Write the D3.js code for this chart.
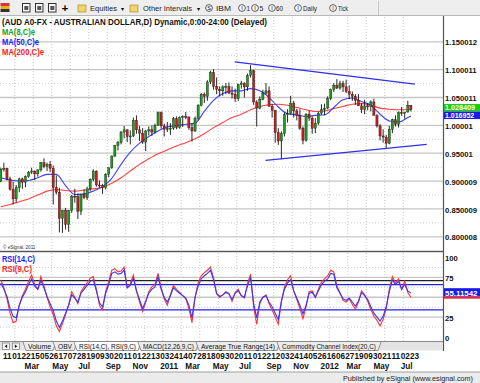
<!DOCTYPE html>
<html><head><meta charset="utf-8">
<script src="https://cdn.jsdelivr.net/npm/d3@7"></script>
<style>body{margin:0;background:#fff;overflow:hidden}svg{display:block;font-family:"Liberation Sans",Arial,sans-serif}</style>
</head><body><svg id="c" width="480" height="383"></svg>
<script>
// ---------- DATA (weekly bars, first bar = week of 2010-01-04) ----------
const firstWeek = "2010-01-04";
const opens = [0.9000,0.9210,0.9230,0.9040,0.8850,0.8680,0.8880,0.9040,0.8980,0.9080,0.9160,0.9180,0.9130,0.9200,0.9330,0.9260,0.9300,0.9230,0.8880,0.8800,0.8330,0.8480,0.8220,0.8470,0.8730,0.8720,0.8460,0.8760,0.8700,0.8860,0.9030,0.9180,0.8930,0.8920,0.8880,0.9120,0.9240,0.9450,0.9640,0.9690,0.9880,0.9920,0.9800,0.9810,1.0090,0.9920,0.9860,0.9700,0.9900,0.9920,0.9880,1.0000,1.0230,0.9990,0.9930,0.9940,0.9950,1.0120,0.9960,1.0140,1.0160,1.0150,0.9960,0.9900,1.0130,1.0360,1.0560,1.0520,1.0780,1.0950,1.0700,1.0650,1.0620,1.0690,1.0700,1.0580,1.0560,1.0480,1.0730,1.0760,1.0690,1.0900,1.0980,1.0420,1.0310,1.0470,1.0580,1.0620,1.0340,1.0270,0.9870,0.9720,0.9850,1.0190,1.0210,1.0400,1.0260,1.0180,0.9950,0.9730,1.0200,1.0130,0.9950,1.0040,1.0220,1.0280,1.0310,1.0480,1.0640,1.0720,1.0670,1.0750,1.0690,1.0610,1.0560,1.0520,1.0450,1.0350,1.0280,1.0350,1.0340,1.0420,1.0180,0.9990,0.9810,0.9790,0.9680,0.9930,1.0100,1.0020,1.0230,1.0220,1.0240,1.0360];
const highs = [0.9240,0.9330,0.9240,0.9080,0.8990,0.8930,0.9060,0.9060,0.9100,0.9180,0.9240,0.9190,0.9210,0.9340,0.9410,0.9330,0.9360,0.9280,0.9100,0.8880,0.8480,0.8520,0.8480,0.8750,0.8860,0.8780,0.8770,0.8850,0.8900,0.9050,0.9210,0.9190,0.9010,0.8950,0.9140,0.9240,0.9460,0.9650,0.9720,0.9900,0.9990,0.9930,0.9910,1.0140,1.0180,0.9990,0.9950,0.9920,0.9980,1.0000,1.0030,1.0250,1.0250,1.0030,1.0060,1.0040,1.0150,1.0160,1.0160,1.0180,1.0240,1.0160,1.0040,1.0160,1.0380,1.0580,1.0590,1.0810,1.0980,1.1010,1.0860,1.0700,1.0720,1.0760,1.0770,1.0700,1.0660,1.0750,1.0800,1.0770,1.0930,1.1080,1.1000,1.0450,1.0520,1.0640,1.0760,1.0700,1.0390,1.0280,0.9950,0.9890,1.0230,1.0290,1.0530,1.0440,1.0300,1.0290,0.9980,1.0220,1.0260,1.0160,1.0130,1.0240,1.0380,1.0390,1.0520,1.0660,1.0760,1.0830,1.0800,1.0800,1.0820,1.0720,1.0610,1.0560,1.0560,1.0400,1.0460,1.0400,1.0450,1.0480,1.0200,1.0020,0.9930,0.9830,0.9990,1.0120,1.0180,1.0250,1.0330,1.0240,1.0440,1.0360];
const lows = [0.8980,0.9170,0.9010,0.8830,0.8580,0.8620,0.8800,0.8860,0.8890,0.9060,0.9130,0.9020,0.9080,0.9170,0.9230,0.9180,0.9160,0.8580,0.8760,0.8080,0.8070,0.8130,0.8090,0.8430,0.8610,0.8320,0.8390,0.8680,0.8660,0.8820,0.9000,0.8900,0.8880,0.8770,0.8850,0.9070,0.9220,0.9430,0.9550,0.9660,0.9770,0.9700,0.9660,0.9790,0.9850,0.9720,0.9670,0.9540,0.9820,0.9810,0.9850,0.9990,0.9940,0.9800,0.9880,0.9830,0.9920,0.9930,0.9940,0.9970,1.0110,0.9920,0.9710,0.9880,1.0090,1.0340,1.0400,1.0440,1.0740,1.0640,1.0560,1.0520,1.0530,1.0560,1.0560,1.0480,1.0420,1.0440,1.0660,1.0500,1.0620,1.0860,1.0370,0.9980,1.0290,1.0450,1.0550,1.0340,1.0140,0.9690,0.9650,0.9390,0.9800,1.0050,1.0190,1.0140,1.0090,0.9920,0.9660,0.9710,1.0080,0.9850,0.9860,1.0010,1.0190,1.0180,1.0290,1.0450,1.0600,1.0650,1.0640,1.0600,1.0580,1.0470,1.0440,1.0370,1.0350,1.0220,1.0200,1.0270,1.0250,1.0180,0.9960,0.9730,0.9690,0.9580,0.9660,0.9860,0.9980,0.9960,1.0170,1.0120,1.0230,1.0250];
const closes = [0.9210,0.9230,0.9040,0.8850,0.8680,0.8880,0.9040,0.8980,0.9080,0.9160,0.9180,0.9130,0.9200,0.9330,0.9260,0.9300,0.9230,0.8880,0.8800,0.8330,0.8480,0.8220,0.8470,0.8730,0.8720,0.8460,0.8760,0.8700,0.8860,0.9030,0.9180,0.8930,0.8920,0.8880,0.9120,0.9240,0.9450,0.9640,0.9690,0.9880,0.9920,0.9800,0.9810,1.0090,0.9920,0.9860,0.9700,0.9900,0.9920,0.9880,1.0000,1.0230,0.9990,0.9930,0.9940,0.9950,1.0120,0.9960,1.0140,1.0160,1.0150,0.9960,0.9900,1.0130,1.0360,1.0560,1.0520,1.0780,1.0950,1.0700,1.0650,1.0620,1.0690,1.0700,1.0580,1.0560,1.0480,1.0730,1.0760,1.0690,1.0900,1.0980,1.0420,1.0310,1.0470,1.0580,1.0620,1.0340,1.0270,0.9870,0.9720,0.9850,1.0190,1.0210,1.0400,1.0260,1.0180,0.9950,0.9730,1.0200,1.0130,0.9950,1.0040,1.0220,1.0280,1.0310,1.0480,1.0640,1.0720,1.0670,1.0750,1.0690,1.0610,1.0560,1.0520,1.0450,1.0350,1.0280,1.0350,1.0340,1.0420,1.0180,0.9990,0.9810,0.9790,0.9680,0.9930,1.0100,1.0020,1.0230,1.0220,1.0240,1.0360,1.0284];

const maWeeks = [0,3,6,9,12,15,18,21,24,27,30,33,36,39,42,45,48,51,54,57,60,63,66,69,72,75,78,81,84,87,90,93,96,99,102,105,108,111,114,117,120,123,126,129,132,133];
const ma50  = [0.906,0.902,0.900,0.901,0.906,0.912,0.912,0.892,0.876,0.877,0.882,0.890,0.905,0.930,0.952,0.968,0.980,0.990,0.997,1.000,1.002,1.004,1.025,1.045,1.057,1.062,1.062,1.066,1.062,1.050,1.033,1.021,1.019,1.016,1.018,1.019,1.032,1.046,1.049,1.043,1.036,1.020,1.008,1.006,1.014,1.017];
const ma200 = [0.854,0.858,0.863,0.868,0.875,0.882,0.885,0.883,0.882,0.884,0.886,0.889,0.896,0.906,0.918,0.930,0.940,0.949,0.956,0.963,0.969,0.976,0.985,0.996,1.005,1.014,1.020,1.028,1.034,1.037,1.038,1.036,1.032,1.028,1.025,1.026,1.030,1.034,1.038,1.039,1.036,1.031,1.029,1.028,1.028,1.028];

const rsi14 = [68,60,51,36,26,24,40,50,57,66,73,64,60,71,62,51,42,33,20,12,20,30,40,53,49,44,55,60,65,70,72,58,43,38,55,66,80,82,79,80,84,62,65,74,58,47,36,45,55,60,63,76,60,50,44,52,62,58,55,52,49,40,24,50,64,73,77,80,84,72,55,51,53,56,54,47,55,58,52,50,64,75,42,24,44,50,52,44,38,30,22,45,60,68,72,58,49,40,29,40,55,56,50,58,66,70,73,80,79,62,55,48,46,49,44,39,45,56,52,47,38,30,25,20,26,38,57,72,66,70,60,66,58,55.11542];
const rsi9  = [72,62,48,30,18,20,40,52,60,70,78,66,60,76,64,50,38,28,14,7,17,28,40,57,50,42,57,63,68,74,76,60,40,34,57,70,84,86,82,83,88,62,67,78,58,44,32,44,57,63,66,80,62,48,40,53,65,60,56,52,48,36,18,50,68,77,81,84,88,74,54,50,53,57,55,45,56,60,52,49,67,79,38,16,42,50,53,42,34,25,16,44,63,72,77,58,47,36,23,38,57,58,50,60,69,73,77,84,82,64,56,46,44,48,41,35,44,58,53,45,35,26,21,14,22,36,60,76,68,73,60,70,56,50];

const priceTicks = [0.800008,0.850009,0.900009,0.95001,1.00001,1.050011,1.100011,1.150012];
const priceTickLabels = ["0.800008","0.850009","0.900009","0.95001","1.00001","1.050011","1.100011","1.150012"];
const rsiTicks = [0,25,75,100];
const rsiTickLabels = ["0","25","75","100"];
const dayTickDates = ["2010-01-11","2010-02-01","2010-02-22","2010-03-15","2010-04-05","2010-04-26","2010-05-17","2010-06-07","2010-06-28","2010-07-19","2010-08-09","2010-08-30","2010-09-20","2010-10-11","2010-11-01","2010-11-22","2010-12-13","2011-01-03","2011-01-24","2011-02-14","2011-03-07","2011-03-28","2011-04-18","2011-05-09","2011-05-30","2011-06-20","2011-07-11","2011-08-01","2011-08-22","2011-09-12","2011-10-03","2011-10-24","2011-11-14","2011-12-05","2011-12-26","2012-01-16","2012-02-06","2012-02-27","2012-03-19","2012-04-09","2012-04-30","2012-05-21","2012-06-11","2012-07-02","2012-07-23"];
const dayTickLabels = ["11","01","22","15","05","26","17","07","28","19","09","30","20","11","01","22","13","03","24","14","07","28","18","09","30","20","11","01","22","12","03","24","14","05","26","16","06","27","19","09","30","21","11","02","23"];
const monthTickDates = ["2010-03-01","2010-05-03","2010-07-01","2010-09-01","2010-11-01","2011-01-03","2011-03-01","2011-05-02","2011-07-01","2011-09-01","2011-11-01","2012-01-02","2012-03-01","2012-05-01","2012-07-02"];
const monthTickLabels = ["Mar","May","Jul","Sep","Nov","2011","Mar","May","Jul","Sep","Nov","2012","Mar","May","Jul"];
const trendUpper = [["2011-06-21",1.114],["2012-08-03",1.074]];
const trendLower = [["2011-08-30",0.937],["2012-08-30",0.966]];
const rsiLevels = [{v:71,c:"#222"},{v:66,c:"#2222ee"},{v:34,c:"#2222ee"}];
const lastClose = "1.028409", lastMA50 = "1.016952", lastRSI = "55.11542";
const tabs = ["Volume","OBV","RSI(14,C), RSI(9,C)","MACD(12,26,9,C)","Average True Range(14)","Commodity Channel Index(20,C)"];

// ---------- SCALES ----------
const parse = d3.timeParse("%Y-%m-%d");
const x = d3.scaleTime().domain([parse("2010-01-11"), parse("2012-07-23")]).range([3, 410]);
const y = d3.scaleLinear().domain([0.8, 1.15]).range([236.8, 41.8]);
const yr = d3.scaleLinear().domain([0, 100]).range([337, 257.5]);
const wk = i => d3.timeDay.offset(parse(firstWeek), 7 * i + 2);

const svg = d3.select("#c");
const PR = 443;
const defs = svg.append("defs");
defs.append("clipPath").attr("id","cm").append("rect").attr("x",0).attr("y",17).attr("width",PR).attr("height",233);
defs.append("clipPath").attr("id","cr").append("rect").attr("x",0).attr("y",253).attr("width",PR).attr("height",88);

svg.append("rect").attr("width",480).attr("height",383).attr("fill","#fff");

// ---------- TOOLBAR ----------
const tb = svg.append("g");
tb.append("rect").attr("x",0).attr("y",0).attr("width",480).attr("height",16).attr("fill","#eeeeee");
tb.append("line").attr("x1",0).attr("x2",480).attr("y1",15.5).attr("y2",15.5).attr("stroke","#b8b8b8");
tb.append("line").attr("x1",378.5).attr("x2",378.5).attr("y1",1).attr("y2",15).attr("stroke","#c8c8c8");
tb.append("rect").attr("x",0.5).attr("y",3).attr("width",9).attr("height",3).attr("fill","#d33");
tb.append("rect").attr("x",0.5).attr("y",6).attr("width",9).attr("height",3).attr("fill","#e8b020");
tb.append("rect").attr("x",0.5).attr("y",9).attr("width",9).attr("height",3).attr("fill","#333");
[22,35,48].forEach(ix=>{
  tb.append("rect").attr("x",ix+0.5).attr("y",3.5).attr("width",7.5).attr("height",8.5).attr("fill","#fafafa").attr("stroke","#333");
  tb.append("rect").attr("x",ix+2.3).attr("y",6).attr("width",4).attr("height",4).attr("fill","#555");
});
tb.append("text").attr("x",65).attr("y",12).attr("font-size",11).attr("font-weight","bold").attr("text-anchor","middle").text("+");
function folder(fx){
  tb.append("rect").attr("x",fx).attr("y",5).attr("width",8).attr("height",7).attr("fill","#f3d36b").attr("stroke","#a08020").attr("stroke-width",0.6);
}
folder(78); folder(130);
tb.append("text").attr("x",90).attr("y",11).attr("font-size",7.6).attr("fill","#222").attr("textLength",27).attr("lengthAdjust","spacingAndGlyphs").text("Equities");
tb.append("text").attr("x",121).attr("y",10.5).attr("font-size",6).text("▾");
tb.append("text").attr("x",143).attr("y",11).attr("font-size",7.6).attr("fill","#222").attr("textLength",49).attr("lengthAdjust","spacingAndGlyphs").text("Other Intervals");
tb.append("text").attr("x",197).attr("y",10.5).attr("font-size",6).text("▾");
function circ(cx,label,tx,tl){
  tb.append("circle").attr("cx",cx).attr("cy",8).attr("r",3.4).attr("fill","#fff").attr("stroke","#333").attr("stroke-width",0.8);
  tb.append("text").attr("x",cx).attr("y",10.2).attr("font-size",5.5).attr("text-anchor","middle").text(label==="IBM"?"S":"I");
  tb.append("text").attr("x",tx).attr("y",11).attr("font-size",7.2).attr("fill","#222").attr("textLength",tl).attr("lengthAdjust","spacingAndGlyphs").text(label);
}
circ(209,"IBM",216,15); circ(242,"1",246.5,3.5); circ(255,"5",259.5,3.8); circ(272,"60",276,7); circ(298,"Daily",303,14); circ(333,"Tick",338,10);

// ---------- MAIN PANEL GRID ----------
const gm = svg.append("g");
const gridDates = dayTickDates.filter((d,i)=>i%2===1);
gm.selectAll(".vg").data(gridDates).join("line")
  .attr("x1",d=>x(parse(d))+2.5).attr("x2",d=>x(parse(d))+2.5).attr("y1",17).attr("y2",250)
  .attr("stroke","#c8c8c8").attr("stroke-dasharray","1,2");
gm.selectAll(".hd").data(d3.range(0.825,1.15,0.05)).join("line")
  .attr("x1",0).attr("x2",PR).attr("y1",d=>y(d)).attr("y2",d=>y(d))
  .attr("stroke","#cccccc").attr("stroke-dasharray","1,2");
gm.selectAll(".hs").data(priceTicks).join("line")
  .attr("x1",0).attr("x2",PR).attr("y1",d=>y(d)).attr("y2",d=>y(d))
  .attr("stroke","#c6c6c6").attr("stroke-width",1.3);

// ---------- MAs ----------
const gmc = svg.append("g").attr("clip-path","url(#cm)");
const lineMA = arr => d3.line().x((d,i)=>x(wk(maWeeks[i]))).y(d=>y(d)).curve(d3.curveMonotoneX)(arr);
gmc.append("path").attr("d",lineMA(ma200)).attr("fill","none").attr("stroke","#ff4040").attr("stroke-width",1.1);
gmc.append("path").attr("d",lineMA(ma50)).attr("fill","none").attr("stroke","#4040ff").attr("stroke-width",1.1);
// ---------- CANDLES ----------
const cd = closes.map((c,i)=>({i,o:opens[i],h:highs[i],l:lows[i],c}));
gmc.selectAll(".wick").data(cd).join("line")
  .attr("x1",d=>x(wk(d.i))).attr("x2",d=>x(wk(d.i)))
  .attr("y1",d=>y(d.h)).attr("y2",d=>y(d.l)).attr("stroke","#111").attr("stroke-width",0.9);
gmc.selectAll(".body").data(cd).join("rect")
  .attr("x",d=>x(wk(d.i))-1.1).attr("width",2.2)
  .attr("y",d=>y(Math.max(d.o,d.c))).attr("height",d=>Math.max(1,Math.abs(y(d.o)-y(d.c))))
  .attr("fill",d=>d.c>=d.o?"#1e9a1e":"#c81e1e").attr("stroke","#111").attr("stroke-width",0.35);
[trendUpper,trendLower].forEach(t=>{
  gmc.append("line").attr("x1",x(parse(t[0][0]))).attr("y1",y(t[0][1])).attr("x2",x(parse(t[1][0]))).attr("y2",y(t[1][1]))
    .attr("stroke","#3030e8").attr("stroke-width",1.2);
});

// ---------- RSI PANEL ----------
const gr = svg.append("g");
gr.selectAll(".vg").data(gridDates).join("line")
  .attr("x1",d=>x(parse(d))+2.5).attr("x2",d=>x(parse(d))+2.5).attr("y1",253).attr("y2",341)
  .attr("stroke","#c8c8c8").attr("stroke-dasharray","1,2");
gr.selectAll(".hd").data([12.5,37.5,62.5,87.5]).join("line")
  .attr("x1",0).attr("x2",PR).attr("y1",d=>yr(d)).attr("y2",d=>yr(d))
  .attr("stroke","#cccccc").attr("stroke-dasharray","1,2");
gr.selectAll(".hs").data([25,50,75]).join("line")
  .attr("x1",0).attr("x2",PR).attr("y1",d=>yr(d)).attr("y2",d=>yr(d))
  .attr("stroke","#c6c6c6").attr("stroke-width",1.3);
gr.selectAll(".lv").data(rsiLevels).join("line")
  .attr("x1",0).attr("x2",PR).attr("y1",d=>yr(d.v)).attr("y2",d=>yr(d.v))
  .attr("stroke",d=>d.c).attr("stroke-width",1.2);
const grc = svg.append("g").attr("clip-path","url(#cr)");
const lineR = d3.line().x((d,i)=>x(wk(i))).y(d=>yr(d));
grc.append("path").attr("d",lineR(rsi9)).attr("fill","none").attr("stroke","#ff3030").attr("stroke-width",1.1);
grc.append("path").attr("d",lineR(rsi14)).attr("fill","none").attr("stroke","#3535ff").attr("stroke-width",1.1);

svg.append("rect").attr("x",0).attr("y",250).attr("width",PR).attr("height",3).attr("fill","#d8d8d8");
svg.append("line").attr("x1",0).attr("x2",PR).attr("y1",251.5).attr("y2",251.5).attr("stroke","#555");
svg.append("line").attr("x1",PR+0.5).attr("x2",PR+0.5).attr("y1",16).attr("y2",351).attr("stroke","#555").attr("stroke-width",1.2);

// ---------- TEXT LABELS ----------
svg.append("text").attr("x",2).attr("y",25).attr("font-size",8.4).attr("font-weight","bold").attr("fill","#111")
  .attr("textLength",265).attr("lengthAdjust","spacingAndGlyphs")
  .text("(AUD A0-FX - AUSTRALIAN DOLLAR,D) Dynamic,0:00-24:00 (Delayed)");
const leg = [["MA(8,C)e","#22a022",35],["MA(50,C)e","#2222ff",39],["MA(200,C)e","#ff2020",44]];
leg.forEach((l,i)=>svg.append("text").attr("x",2).attr("y",35+i*10).attr("font-size",8.4).attr("font-weight","bold")
  .attr("fill",l[1]).attr("textLength",l[2]-2).attr("lengthAdjust","spacingAndGlyphs").text(l[0]));
svg.append("text").attr("x",3).attr("y",248.5).attr("font-size",4.6).attr("fill","#333").text("© eSignal, 2011");
[["RSI(14,C)","#2222ff",35],["RSI(9,C)","#ff2020",32]].forEach((l,i)=>svg.append("text").attr("x",2).attr("y",262+i*10)
  .attr("font-size",8.4).attr("font-weight","bold").attr("fill",l[1]).attr("textLength",l[2]-2).attr("lengthAdjust","spacingAndGlyphs").text(l[0]));

svg.selectAll(".pl").data(priceTicks).join("text")
  .attr("x",445).attr("y",d=>y(d)+3.6).attr("font-size",7.7).attr("font-weight","bold").attr("fill","#111")
  .text((d,i)=>priceTickLabels[i]);
const cy = y(+lastClose);
svg.append("rect").attr("x",444).attr("y",cy-5.5).attr("width",36).attr("height",7.5).attr("fill","#10d010");
svg.append("text").attr("x",445).attr("y",cy+0.6).attr("font-size",7.2).attr("font-weight","bold").attr("fill","#fff").text(lastClose);
svg.append("rect").attr("x",444).attr("y",cy+2).attr("width",36).attr("height",7.5).attr("fill","#1a1ae8");
svg.append("text").attr("x",445).attr("y",cy+8.4).attr("font-size",7).attr("font-weight","bold").attr("fill","#fff").text(lastMA50);

svg.selectAll(".rl").data(rsiTicks).join("text")
  .attr("x",445).attr("y",d=>yr(d)+3.6).attr("font-size",7.7).attr("font-weight","bold").attr("fill","#111")
  .text((d,i)=>rsiTickLabels[i]);
const ry = yr(+lastRSI);
svg.append("rect").attr("x",444).attr("y",ry-5).attr("width",36).attr("height",8.5).attr("fill","#1a1ae8");
svg.append("rect").attr("x",444).attr("y",ry+3.5).attr("width",36).attr("height",2).attr("fill","#ff2020");
svg.append("text").attr("x",445).attr("y",ry+2.4).attr("font-size",7.9).attr("font-weight","bold").attr("fill","#fff").text(lastRSI);

// ---------- TAB BAR ----------
const tg = svg.append("g");
tg.append("rect").attr("x",0).attr("y",341.5).attr("width",PR).attr("height",9).attr("fill","#e4e4e4");
tg.append("line").attr("x1",0).attr("x2",PR).attr("y1",341.5).attr("y2",341.5).attr("stroke","#888");
[2.5,12.5].forEach((bx,k)=>{
  tg.append("rect").attr("x",bx).attr("y",343).attr("width",7).attr("height",6.5).attr("fill","#f4f4f4").attr("stroke","#666").attr("stroke-width",0.6);
  tg.append("path").attr("d",k===0?`M${bx+4.6},344.5 L${bx+2.2},346.25 L${bx+4.6},348 Z`:`M${bx+2.4},344.5 L${bx+4.8},346.25 L${bx+2.4},348 Z`).attr("fill","#111");
});
const tabX = [[23,53],[53,74],[74,138],[138,196],[196,277],[277,378]];
tabs.forEach((t,i)=>{
  const [a,b]=tabX[i];
  tg.append("path").attr("d",`M${a},342 L${a+3},350.5 L${b},350.5 L${b+3},342`).attr("fill",i===2?"#fafafa":"#ececec").attr("stroke","#555").attr("stroke-width",0.6);
  tg.append("text").attr("x",(a+b+3)/2).attr("y",349).attr("font-size",6.6).attr("text-anchor","middle").attr("fill","#111")
    .attr("textLength",b-a-7).attr("lengthAdjust","spacingAndGlyphs").text(t);
});

// ---------- DATE AXIS ----------
svg.selectAll(".dl").data(dayTickDates).join("text")
  .attr("x",d=>x(parse(d))).attr("y",359).attr("font-size",8.2).attr("font-weight","bold").attr("fill","#111")
  .text((d,i)=>dayTickLabels[i]);
svg.selectAll(".ml").data(monthTickDates).join("text")
  .attr("x",d=>x(parse(d))).attr("y",369).attr("font-size",8.2).attr("font-weight","bold").attr("fill","#111")
  .text((d,i)=>monthTickLabels[i]);

// ---------- FOOTER ----------
svg.append("rect").attr("x",0).attr("y",372).attr("width",480).attr("height",11).attr("fill","#ebebeb");
svg.append("line").attr("x1",0).attr("x2",480).attr("y1",372).attr("y2",372).attr("stroke","#a0a0a0");
svg.append("text").attr("x",343).attr("y",380.5).attr("font-size",7.6).attr("fill","#222")
  .attr("textLength",130).attr("lengthAdjust","spacingAndGlyphs").text("Published by eSignal (www.esignal.com)");
</script></body></html>
